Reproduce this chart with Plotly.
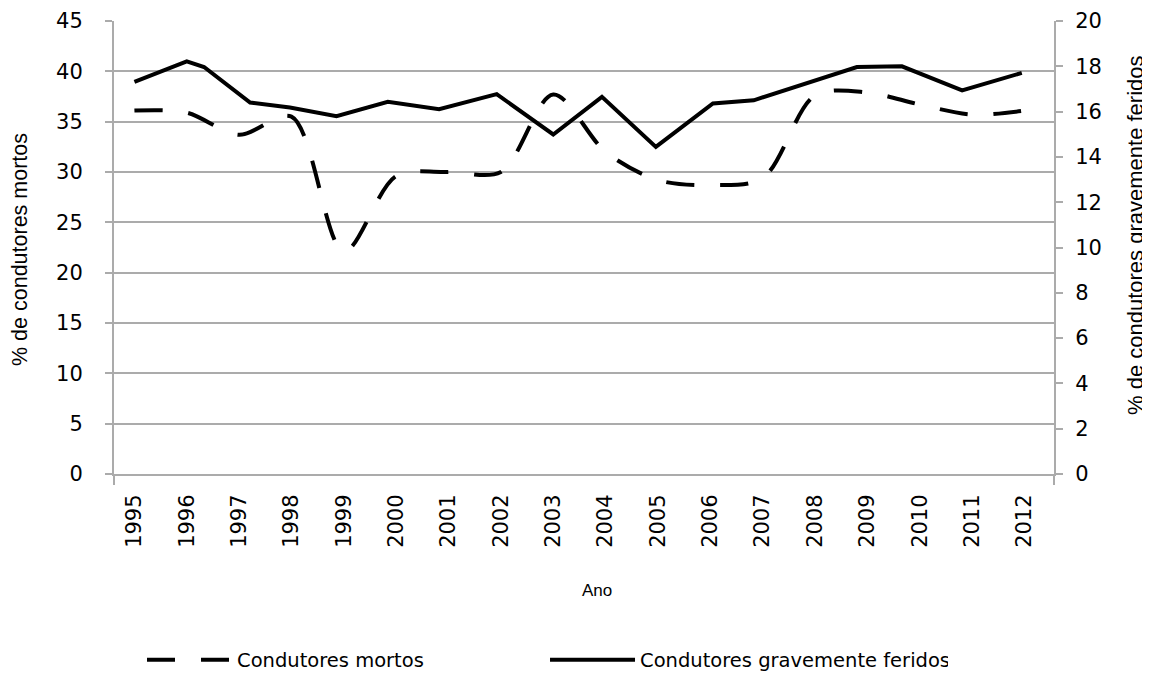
import plotly.graph_objects as go

# ---- data ----
anos = [1995, 1996, 1997, 1998, 1999, 2000, 2001, 2002, 2003,
        2004, 2005, 2006, 2007, 2008, 2009, 2010, 2011, 2012]
ano_labels = [str(a) for a in anos]

mortos = [36.1, 35.9, 33.7, 35.5, 22.1, 29.6, 30.0, 30.0, 37.7,
          32.0, 29.2, 28.7, 29.4, 37.6, 37.9, 36.7, 35.7, 36.1]

feridos_x = [1995.0, 1996.0, 1996.33, 1997.21, 1997.97, 1998.86, 1999.84,
             2000.82, 2001.92, 2003.0, 2003.93, 2004.96, 2006.05, 2006.83,
             2008.80, 2009.66, 2010.81, 2011.95]
feridos = [17.31, 18.22, 17.97, 16.40, 16.18, 15.80, 16.43, 16.11, 16.77,
           14.99, 16.65, 14.44, 16.36, 16.50, 17.97, 18.00, 16.94, 17.71]

left_ticks = [0, 5, 10, 15, 20, 25, 30, 35, 40, 45]
right_ticks = [0, 2, 4, 6, 8, 10, 12, 14, 16, 18, 20]

GRID = "#ABABAB"
TICKFONT = dict(family="DejaVu Sans", size=21, color="#000000")

fig = go.Figure()
fig.add_trace(go.Scatter(
    x=anos, y=mortos, name="Condutores mortos", mode="lines",
    line=dict(color="black", width=4, dash="28px,26px", shape="spline", smoothing=0.9),
    yaxis="y"))
fig.add_trace(go.Scatter(
    x=feridos_x, y=feridos, name="Condutores gravemente feridos", mode="lines",
    line=dict(color="black", width=4),
    yaxis="y2"))

fig.update_layout(
    width=1142, height=674,
    margin=dict(l=106, r=96, t=12.7, b=207.7, autoexpand=False),
    paper_bgcolor="white", plot_bgcolor="white",
    showlegend=True,
    legend=dict(orientation="h", x=0.0298, xanchor="left",
                yref="container", y=0.0326, yanchor="middle",
                font=dict(family="DejaVu Sans", size=19.5, color="black"),
                itemwidth=85, entrywidth=303, entrywidthmode="pixels",
                bgcolor="rgba(0,0,0,0)"),
    xaxis=dict(
        range=[1994.61, 2012.565], automargin=False,
        tickmode="array", tickvals=anos, ticktext=ano_labels,
        tickangle=-90, tickfont=TICKFONT, ticks="", ticklabelstandoff=10,
        showgrid=False, zeroline=False,
        showline=True, linecolor=GRID, linewidth=2,
        minor=dict(tickmode="array", tickvals=[1994.61, 2012.565], ticks="outside",
                   ticklen=9, tickcolor=GRID, tickwidth=2, showgrid=False),
    ),
    yaxis=dict(
        range=[0, 45], tickmode="array", tickvals=left_ticks, automargin=False,
        tickfont=TICKFONT, ticks="outside", ticklen=7, tickcolor=GRID, tickwidth=2,
        ticklabelstandoff=18,
        showgrid=True, gridcolor=GRID, gridwidth=2, zeroline=False,
        showline=True, linecolor=GRID, linewidth=2,
    ),
    yaxis2=dict(
        range=[0, 20], tickmode="array", tickvals=right_ticks, automargin=False,
        tickfont=TICKFONT, ticks="outside", ticklen=7, tickcolor=GRID, tickwidth=2,
        ticklabelstandoff=8,
        overlaying="y", side="right", showgrid=False, zeroline=False,
        showline=True, linecolor=GRID, linewidth=2,
    ),
    annotations=[
        dict(text="% de condutores mortos", xref="paper", yref="paper",
             x=(20 - 114) / 940, y=(474.3 - 250) / 453.6, textangle=-90,
             xanchor="center", yanchor="middle", borderpad=0,
             showarrow=False, font=dict(family="Liberation Sans", size=21.5, color="black")),
        dict(text="% de condutores gravemente feridos", xref="paper", yref="paper",
             x=(1135 - 114) / 940, y=(474.3 - 235) / 453.6, textangle=-90,
             xanchor="center", yanchor="middle", borderpad=0,
             showarrow=False, font=dict(family="Liberation Sans", size=22, color="black")),
        dict(text="Ano", xref="paper", yref="paper",
             x=(597 - 114) / 940, y=(474.3 - 591) / 453.6,
             xanchor="center", yanchor="middle",
             showarrow=False, font=dict(family="Liberation Sans", size=17, color="black")),
    ],
)

fig.write_html("out.html")
